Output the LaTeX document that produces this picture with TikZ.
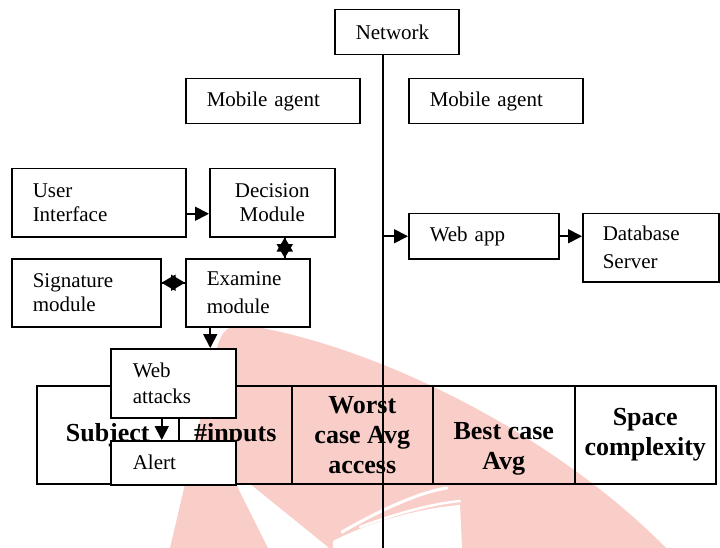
\documentclass[tikz,border=0pt]{standalone}
\usepackage{fontspec}
\setmainfont{Liberation Serif}
\usetikzlibrary{arrows.meta,calc}
\definecolor{wm}{RGB}{249,206,201}
\newcommand\nf{\fontsize{21}{24}\selectfont}
\newcommand\nfw{\fontsize{21}{28}\selectfont}
\newcommand\nfm{\fontsize{21}{26}\selectfont}
\newcommand\bfnt{\fontsize{26}{30}\selectfont\bfseries}
\begin{document}
\begin{tikzpicture}[x=1pt,y=-1pt,
 box/.style={draw, line width=1.5pt, fill=white, inner ysep=0pt, anchor=north west, align=left, font=\nf},
 cell/.style={draw, line width=1.5pt, inner sep=0pt, anchor=north west, minimum height=98pt},
 ttext/.style={font=\bfnt, align=center, inner sep=0pt},
 arr/.style={line width=1.8pt, -{Triangle[length=14pt,width=14pt]}},
 half/.style={line width=1.8pt, -{Triangle[length=14pt,width=16pt]}},
 netline/.style={line width=1.2pt}]
\useasboundingbox (0,0) rectangle (720,548);
% watermark
\fill[wm] (170,548) -- (216,352) .. controls (222,325) and (232,322) .. (262,328) .. controls (400,355) and (565,445) .. (666,548) -- cycle;
\fill[white] (236,484) -- (250,484) -- (329,548) -- (268,548) -- cycle;
\fill[white] (333,548) -- (333,541) .. controls (370,522) and (420,508) .. (460,505) -- (462,548) -- cycle;
\draw[white, line width=3pt, line cap=round] (342,532) .. controls (380,510) and (420,492) .. (447,488);
\draw[white, line width=2.5pt, line cap=round] (360,527) .. controls (395,514) and (430,504) .. (460,501);
% table
\node[cell, minimum width=142pt] (c1) at (36,385) {};
\node[cell, minimum width=113pt] (c2) at (178,385) {};
\node[cell, minimum width=141pt] (c3) at (291,385) {};
\node[cell, minimum width=142pt] (c4) at (432,385) {};
\node[cell, minimum width=141pt] (c5) at (574,385) {};
\node[ttext] (t1) at (c1.center) {Subject};
\node[ttext] (t2) at (c2.center) {\#inputs};
\node[ttext] (t3) at (c3.center) {Worst\\case Avg\\access};
\node[ttext, yshift=-14pt] (t4) at (c4.center) {Best case\\Avg};
\node[ttext] (t5) at (c5.center) {Space\\complexity};
% network
\coordinate (netBot) at (383,548);
\node[box, inner xsep=21pt, text width=82pt, minimum height=45pt] (Network) at (334,9) {Network};
\draw[netline] (Network.south -| netBot) -- (netBot);
% boxes
\node[box, inner xsep=21pt, text width=132pt, minimum height=45pt] (MobL) at (185,78) {Mobile agent};
\node[box, inner xsep=21pt, text width=132pt, minimum height=45pt] (MobR) at (408,78) {Mobile agent};
\node[box, inner xsep=21pt, text width=132pt, minimum height=68pt] (User) at (11,168) {User\\Interface};
\node[box, inner xsep=5pt, text width=115pt, align=center, minimum height=68pt] (Decision) at (209,168) {Decision\\Module};
\node[box, inner xsep=21pt, text width=107pt, minimum height=68pt] (Signature) at (11,258) {Signature\\module};
\node[box, inner xsep=21pt, text width=82pt, minimum height=68pt, font=\nfw] (Examine) at (185,258) {Examine\\module};
\node[box, inner xsep=21pt, text width=108pt, minimum height=45pt] (Webapp) at (408,213) {Web app};
\node[box, inner xsep=20pt, text width=96pt, minimum height=68pt, font=\nfw] (DB) at (582,213) {Database\\Server};
\node[box, inner xsep=22pt, text width=81pt, minimum height=69pt, font=\nfm] (WebAtt) at (110,348) {Web\\attacks};
\node[box, inner xsep=22pt, text width=81pt, minimum height=44pt] (Alert) at (110,440) {Alert};
% connectors
\draw[arr] (netBot |- Webapp.west) -- (Webapp.west);
\draw[arr] (Webapp.east) -- (DB.west |- Webapp.east);
\draw[arr] ([yshift=-11pt]User.east) -- ([yshift=-11pt]User.east -| Decision.west);
\draw[half] ([xshift=12.5pt]Decision.south |- Examine.north) -- ([xshift=12.5pt]Decision.south);
\draw[half] ([xshift=12.5pt]Decision.south) -- ([xshift=12.5pt]Decision.south |- Examine.north);
\draw[half] ([yshift=10pt]Signature.east -| Examine.west) -- ([yshift=10pt]Signature.east);
\draw[half] ([yshift=10pt]Signature.east) -- ([yshift=10pt]Signature.east -| Examine.west);
\draw[arr] ([xshift=-37.5pt]Examine.south) -- ([xshift=-37.5pt]Examine.south |- WebAtt.north);
\draw[arr] ([xshift=-11.5pt]WebAtt.south) -- ([xshift=-11.5pt]WebAtt.south |- Alert.north);
\end{tikzpicture}
\end{document}
